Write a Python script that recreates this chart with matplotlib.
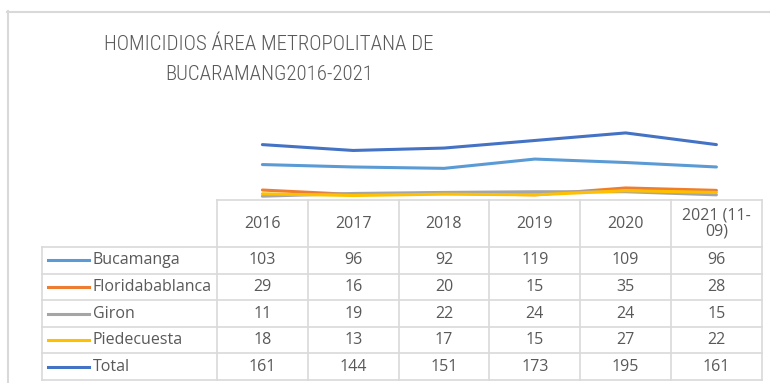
import matplotlib.pyplot as plt
from matplotlib.lines import Line2D

years = ['2016', '2017', '2018', '2019', '2020', '2021 (11-\n09)']
series = ['Bucamanga', 'Floridabablanca', 'Giron', 'Piedecuesta', 'Total']
bucamanga = [103, 96, 92, 119, 109, 96]
floridablanca = [29, 16, 20, 15, 35, 28]
giron = [11, 19, 22, 24, 24, 15]
piedecuesta = [18, 13, 17, 15, 27, 22]
total = [161, 144, 151, 173, 195, 161]
colors = ['#5B9BD5', '#ED7D31', '#A5A5A5', '#FFC000', '#4472C4']
values = [bucamanga, floridablanca, giron, piedecuesta, total]

W, H = 770, 383
plt.rcParams['font.family'] = ['Open Sans', 'DejaVu Sans']
fig = plt.figure(figsize=(W / 100, H / 100), dpi=100)

# background axes in pixel units for frame, title and data table
bg = fig.add_axes([0, 0, 1, 1])
bg.set_xlim(0, W)
bg.set_ylim(H, 0)
bg.axis('off')

grid = '#D9D9D9'
txt = '#595959'
bg.plot([7, W], [11.5, 11.5], color=grid, lw=1.5)
bg.plot([7.5, 7.5], [11, H], color=grid, lw=1.5)

title_font = ['Roboto Condensed', 'Roboto', 'DejaVu Sans']
bg.text(269, 45, 'HOMICIDIOS ÁREA METROPOLITANA DE', ha='center', va='center',
        fontsize=15, color=txt, family=title_font, fontweight='light')
bg.text(269, 74, 'BUCARAMANG2016-2021', ha='center', va='center',
        fontsize=15, color=txt, family=title_font, fontweight='light')

# table geometry
x0, x_leg = 217, 42
col_w = 90.8
top, head_h, row_h = 200, 47, 26.6
ncol = len(years)
x_right = x0 + ncol * col_w
y_rows = [top + head_h + i * row_h for i in range(len(series) + 1)]
bottom = y_rows[-1]

lw_t = 1.2
bg.plot([x0, x_right], [top, top], color=grid, lw=lw_t)
for y in y_rows:
    bg.plot([x_leg, x_right], [y, y], color=grid, lw=lw_t)
bg.plot([x_leg, x_leg], [y_rows[0], bottom], color=grid, lw=lw_t)
for i in range(ncol + 1):
    xc = x0 + i * col_w
    bg.plot([xc, xc], [top, bottom], color=grid, lw=lw_t)

fs = 11.5
for i, yr in enumerate(years):
    bg.text(x0 + (i + 0.5) * col_w, top + head_h / 2, yr, ha='center', va='center',
            fontsize=fs, color=txt, linespacing=1.05)

for r, (name, vals, c) in enumerate(zip(series, values, colors)):
    yc = y_rows[r] + row_h / 2
    bg.add_line(Line2D([48, 89], [yc, yc], color=c, lw=2.2))
    bg.text(93, yc, name, ha='left', va='center', fontsize=fs, color=txt)
    for i, v in enumerate(vals):
        bg.text(x0 + (i + 0.5) * col_w, yc, str(v), ha='center', va='center',
                fontsize=fs, color=txt)

# line chart aligned with table columns
p_top = 114
ax = fig.add_axes([x0 / W, 1 - top / H, ncol * col_w / W, (top - p_top) / H])
ax.set_xlim(-0.5, ncol - 0.5)
ax.set_ylim(0, 250)
ax.axis('off')
for vals, c in zip(values, colors):
    ax.plot(range(ncol), vals, color=c, lw=2.2, solid_capstyle='round')

fig.savefig('out.png', dpi=100)
